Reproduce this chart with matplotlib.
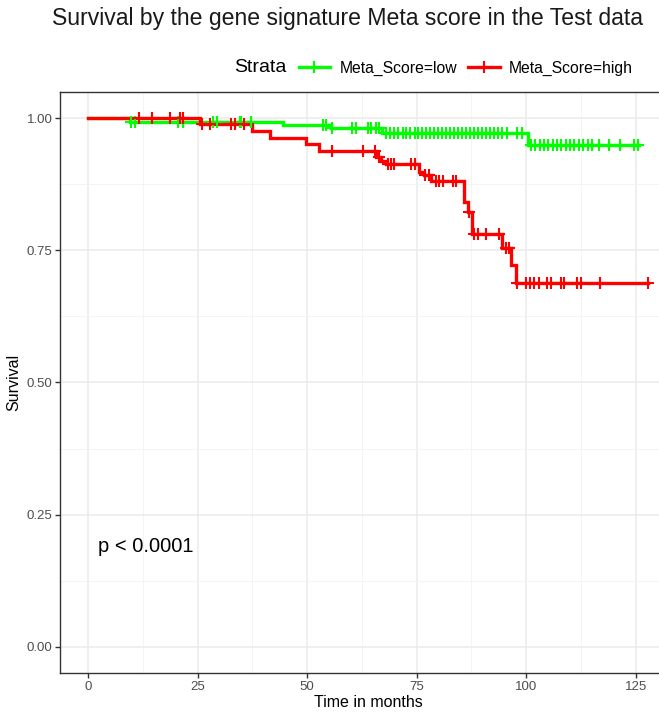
import numpy as np
import matplotlib
matplotlib.use("Agg")
import matplotlib.pyplot as plt
from matplotlib.lines import Line2D
from matplotlib.offsetbox import HPacker

plt.rcParams['font.family'] = ['Liberation Sans', 'DejaVu Sans']

# ---- data ----
low_times = [0, 9.6, 44.5, 55.5, 67.1, 100.5]
low_surv = [1.0, 0.993, 0.987, 0.981, 0.973, 0.950]
low_end = 125.7
low_censor = [9.7, 10.7, 20.5, 21.6, 28.5, 29.4, 34.6, 35.0, 37.3, 53.6, 54.3, 55.6,
              60.3, 61.2, 63.8, 64.6, 65.6, 66.3,
              68.0, 69.0, 69.9, 70.8, 71.8, 72.6, 73.5, 74.5, 75.3, 76.2, 77.1, 78.1,
              79.0, 79.9, 80.8, 81.7, 82.7, 83.5, 84.4, 85.3, 86.2, 87.2, 88.0, 89.0,
              89.9, 90.8, 91.8, 92.6, 93.5, 94.4, 95.6, 98.0, 99.0,
              101.0, 102.1, 103.1, 104.1, 105.0, 106.0, 107.1, 108.0, 109.0, 110.0,
              111.0, 112.1, 113.0, 114.0, 115.1, 116.6, 118.9, 121.5, 124.5, 125.5]

high_times = [0, 25.5, 37.5, 41.6, 49.8, 52.8, 65.7, 66.9, 68.0, 75.6, 76.7, 78.3,
              85.8, 86.8, 87.6, 94.4, 96.5, 97.6]
high_surv = [1.0, 0.989, 0.976, 0.963, 0.952, 0.938, 0.927, 0.919, 0.913, 0.899, 0.892,
             0.882, 0.842, 0.823, 0.782, 0.754, 0.723, 0.689]
high_end = 127.8
high_censor = [11.6, 14.6, 18.7, 21.0, 21.6, 25.9, 27.8, 32.7, 33.6, 35.6, 55.7, 62.7,
               65.4, 66.3, 68.4, 69.1, 69.9, 73.7, 74.7, 77.0, 77.9, 79.4, 80.1, 80.9,
               83.2, 84.0, 86.9, 88.1, 88.9, 90.8, 93.7, 95.3, 96.1, 98.0, 99.9, 100.9,
               101.8, 102.8, 104.8, 105.6, 107.9, 108.6, 111.6, 112.6, 116.8, 127.8]

strata_labels = ["Meta_Score=low", "Meta_Score=high"]
colors = ["#00FF00", "#FF0000"]
x_ticks = [0, 25, 50, 75, 100, 125]
y_ticks = [0.0, 0.25, 0.50, 0.75, 1.00]
y_ticklabels = ["0.00", "0.25", "0.50", "0.75", "1.00"]

W, H = 659, 717
fig = plt.figure(figsize=(W / 100, H / 100), dpi=100)
# panel from x=60 to ~677 px (cropped at right), y from 92 to 673 px
ax = fig.add_axes([60 / W, 1 - 673 / H, (677 - 60) / W, (673 - 92) / H])
ax.set_xlim(-6.4, 134.4)
ax.set_ylim(-0.05, 1.05)


def step_val(times, surv, t):
    idx = np.searchsorted(times, t, side='right') - 1
    return np.asarray(surv)[idx]


curves = [(low_times, low_surv, low_end, low_censor),
          (high_times, high_surv, high_end, high_censor)]
for (tt, ss, tend, cens), col in zip(curves, colors):
    xs = list(tt) + [tend]
    ys = list(ss) + [ss[-1]]
    ax.step(xs, ys, where='post', color=col, lw=2.4, zorder=3, solid_joinstyle='miter')
    cy = step_val(np.array(tt), ss, np.array(cens))
    ax.plot(cens, cy, linestyle='none', marker='+', color=col, ms=8.5, mew=1.5, zorder=4)

# grid like theme_bw
ax.set_xticks(x_ticks)
ax.set_xticks([12.5, 37.5, 62.5, 87.5, 112.5], minor=True)
ax.set_yticks(y_ticks)
ax.set_yticklabels(y_ticklabels)
ax.set_yticks([0.125, 0.375, 0.625, 0.875], minor=True)
ax.grid(which='major', color='#EBEBEB', lw=1.1, zorder=0)
ax.grid(which='minor', color='#F3F3F3', lw=0.6, zorder=0)
ax.set_axisbelow(True)
for s in ax.spines.values():
    s.set_color('#333333')
    s.set_linewidth(1.0)
ax.tick_params(which='major', length=3.5, width=1.0, color='#333333',
               labelcolor='#4D4D4D', labelsize=9.5, pad=2)
ax.tick_params(which='minor', length=0)

ax.set_xlabel("Time in months", fontsize=11.5, color='black', labelpad=2)
ax.set_ylabel("Survival", fontsize=11.5, color='black', labelpad=4)

ax.text(2.2, 0.19, "p < 0.0001", fontsize=14.5, color='black', va='center', ha='left')

# title
fig.text(52 / W, 1 - 18 / H, "Survival by the gene signature Meta score in the Test data",
         fontsize=16.6, color='#1A1A1A', ha='left', va='center')

# legend
handles = [Line2D([], [], color=c, lw=2.4, marker='+', ms=9, mew=1.5) for c in colors]
leg = fig.legend(handles, strata_labels, title="Strata", ncol=2, frameon=False,
                 loc='center left', bbox_to_anchor=(226 / W, 1 - 68 / H),
                 fontsize=11.3, title_fontsize=14, handlelength=2.0,
                 columnspacing=0.7, handletextpad=0.6, borderpad=0.0)
title_box = leg._legend_title_box
handle_box = leg._legend_handle_box
leg._legend_box._children = [HPacker(pad=0, sep=9, children=[title_box, handle_box], align='center')]

fig.savefig("out.png", dpi=100)
